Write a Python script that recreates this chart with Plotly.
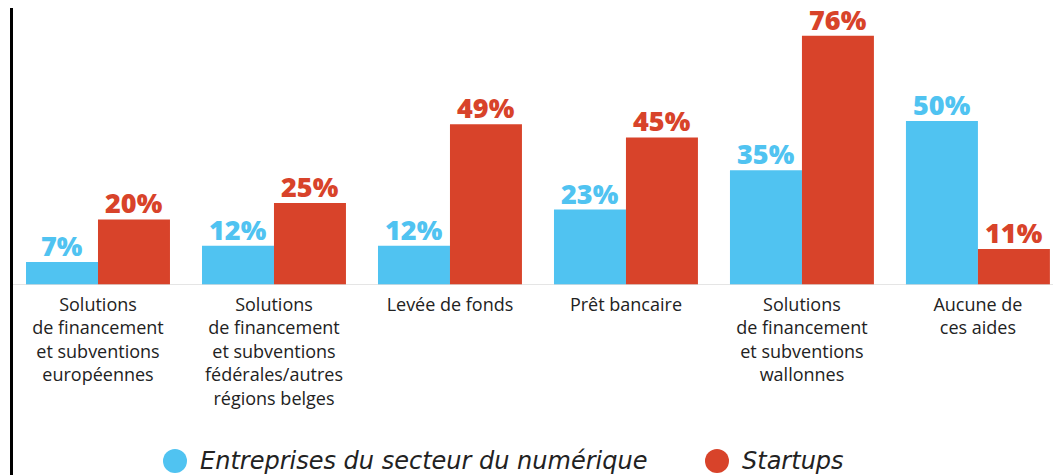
import plotly.graph_objects as go

categories = [
    "Solutions<br>de financement<br>et subventions<br>européennes",
    "Solutions<br>de financement<br>et subventions<br>fédérales/autres<br>régions belges",
    "Levée de fonds",
    "Prêt bancaire",
    "Solutions<br>de financement<br>et subventions<br>wallonnes",
    "Aucune de<br>ces aides",
]
numerique = [7, 12, 12, 23, 35, 50]
startups = [20, 25, 49, 45, 76, 11]
series_names = ["Entreprises du secteur du numérique", "Startups"]

BLUE = "#50C3F1"
RED = "#D8432A"
FONT = "Open Sans"
LEGFONT = "DejaVu Sans"
BARGAP = 0.182

# page has 8px body margin -> figure sized to fit the window
W, H = 1053, 467
L, T, B = 2, 0, 190
PW, PH = W - L, H - T - B

fig = go.Figure()
series = [(series_names[0], numerique, BLUE), (series_names[1], startups, RED)]
xs = list(range(len(categories)))
for name, vals, col in series:
    fig.add_trace(go.Bar(
        x=xs, y=vals, name=name,
        marker=dict(color=col, line=dict(width=0)),
        showlegend=False,
    ))

# value labels above each bar (offset derived from the group layout)
half = (1 - BARGAP) / 4
for k, (name, vals, col) in enumerate(series):
    off = -half if k == 0 else half
    for i, v in zip(xs, vals):
        fig.add_annotation(x=i + off, y=v, xref="x", yref="y", text=f"{v}%",
                           showarrow=False, yanchor="bottom", xanchor="center", yshift=-4,
                           font=dict(family=FONT, size=27, color=col, weight=800))

fig.update_layout(
    width=W, height=H,
    margin=dict(l=L, r=0, t=T, b=B, autoexpand=False),
    paper_bgcolor="white", plot_bgcolor="white",
    barmode="group", bargap=BARGAP, bargroupgap=0,
    font=dict(family=FONT, color="#222222"),
    xaxis=dict(
        tickmode="array", tickvals=xs, ticktext=categories,
        range=[-0.5, 5.472], showgrid=False, zeroline=False, showline=False,
        ticks="", automargin=False, ticklabelstandoff=7,
        tickfont=dict(family=FONT, size=18, color="#222222"),
    ),
    yaxis=dict(range=[0, PH / 3.28], visible=False, showgrid=False, zeroline=False),
)

def px(x):
    return (x - L) / PW

def py(y):
    return (T + PH - y) / PH

# baseline
fig.add_shape(type="line", xref="paper", yref="y", x0=0, x1=1, y0=0, y1=0,
              line=dict(color="#DDDDDD", width=1.5))
# left black bar
fig.add_shape(type="line", xref="paper", yref="paper", x0=px(3.5), x1=px(3.5), y0=-1, y1=1.2,
              line=dict(color="black", width=3))

# legend drawn manually with circles
legend_items = [(series_names[0], BLUE, 167), (series_names[1], RED, 709)]
for name, col, cx in legend_items:
    fig.add_shape(type="circle", xref="paper", yref="paper",
                  x0=px(cx - 12), x1=px(cx + 12), y0=py(465), y1=py(441),
                  fillcolor=col, line=dict(width=0))
    fig.add_annotation(xref="paper", yref="paper", x=px(cx + 23), y=py(453),
                       text=f"<i>{name}</i>", showarrow=False, xanchor="left", yanchor="middle",
                       font=dict(family=LEGFONT, size=24, color="#222222"))

fig.write_html("out.html")
